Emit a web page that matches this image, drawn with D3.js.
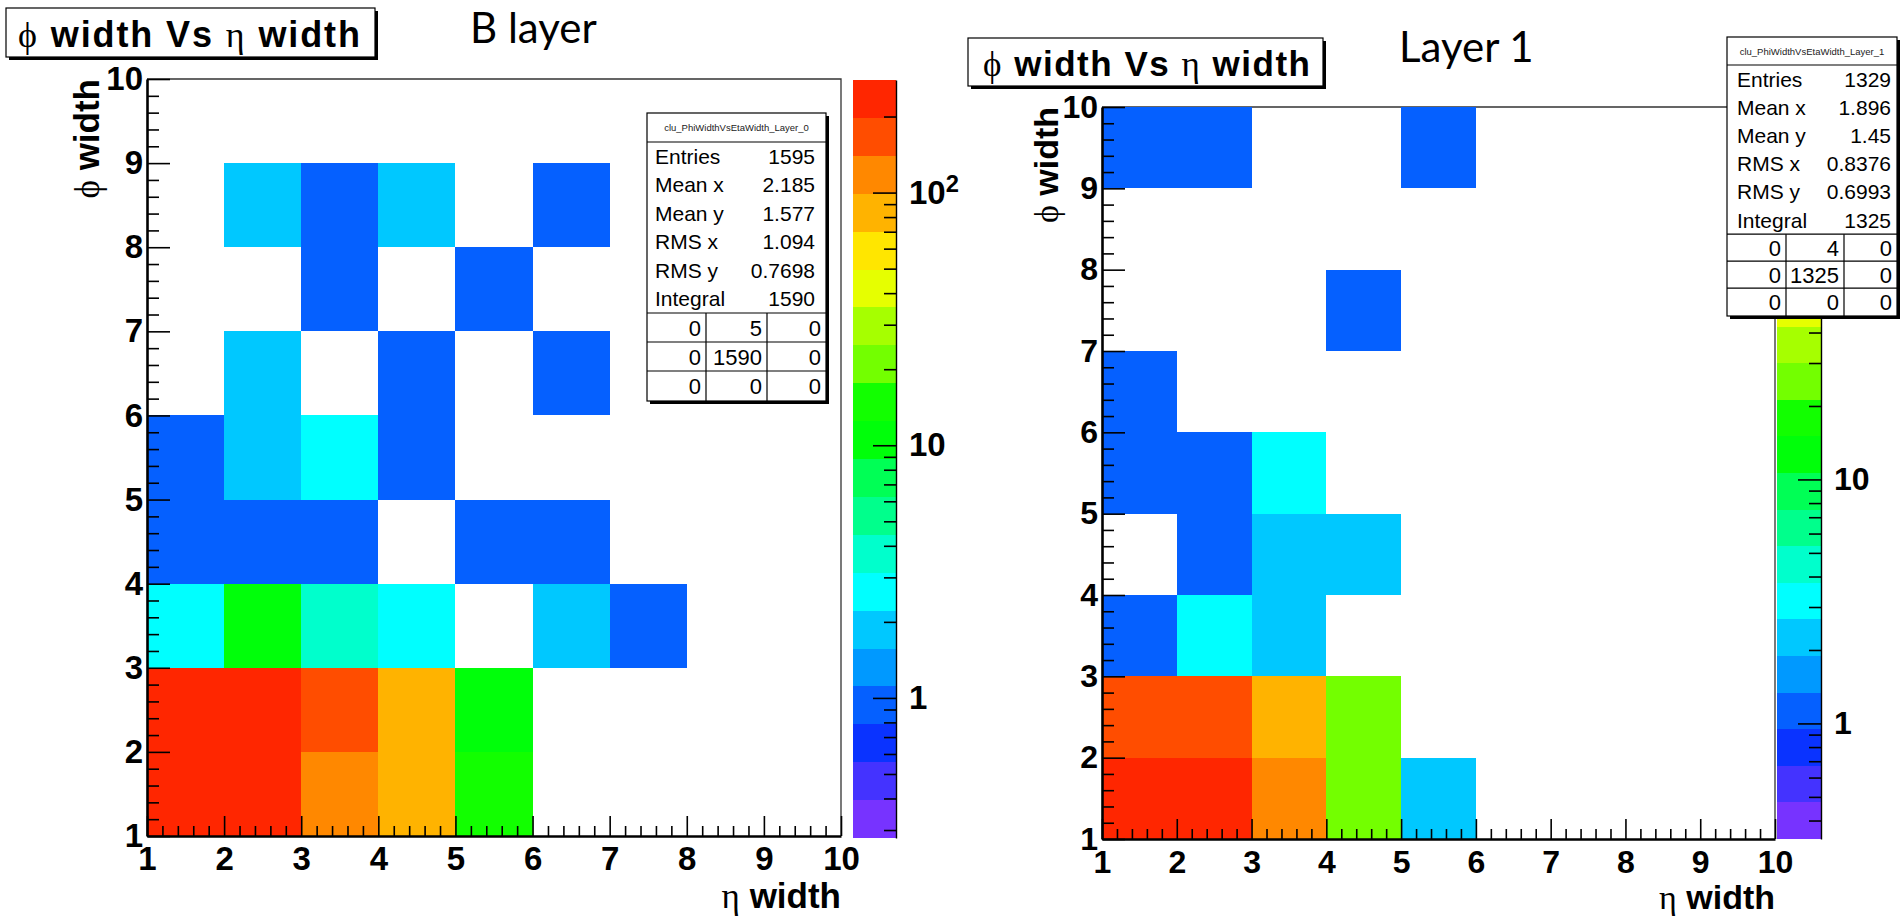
<html>

<head>
    <meta charset="utf-8">
    <title>phi width Vs eta width</title>

    <style>
        body {
            padding: 0;
            margin: 0;
            background: white;
        }

        svg {
            display: block;
        }

        .frame {
            stroke: #333;
            stroke-width: 1.3;
            fill: none;
        }

        .cell {
            shape-rendering: crispEdges;
        }

        .box {
            fill: white;
            stroke: black;
            stroke-width: 1.2;
        }

        .shadow {
            fill: black;
        }

        .stat {
            font-family: "Liberation Sans", Arial, sans-serif;
        }

        .bold {
            font-family: "Liberation Sans", Arial, sans-serif;
            font-weight: bold;
        }

        .greek {
            font-family: "Liberation Serif", "DejaVu Serif", serif;
            font-weight: normal;
        }

        .layer {
            font-family: Lato, "Open Sans", sans-serif;
            font-size: 42px;
        }
    </style>
</head>

<body>

    <div id="chart"></div>

    <script src="https://d3js.org/d3.v7.min.js"></script>

    <script>
        // ---- data ----
        var etaTicks = [1, 2, 3, 4, 5, 6, 7, 8, 9, 10];
        var phiTicks = [1, 2, 3, 4, 5, 6, 7, 8, 9, 10];
        var zMinorTicks = [0.2, 0.3, 0.4, 0.5, 0.6, 0.7, 0.8, 0.9, 2, 3, 4, 5, 6, 7, 8, 9,
            20, 30, 40, 50, 60, 70, 80, 90, 200, 300];

        // 20 contour colours, lowest level first
        var paletteColors = ["#7733ff", "#4433ff", "#0a33ff", "#0560ff", "#0099ff",
            "#00c8ff", "#00ffff", "#00ffcc", "#00ff8c", "#00ff55",
            "#00ff0a", "#12ff00", "#73ff00", "#a6ff00", "#e6ff00",
            "#ffe600", "#ffb300", "#ff8800", "#ff4d00", "#ff2600"];

        var statNames = ["Entries", "Mean x", "Mean y", "RMS x", "RMS y", "Integral"];

        // B layer: [eta bin low edge, phi bin low edge, entries]
        var bLayerCells = [
            [1, 1, 270], [2, 1, 255], [3, 1, 135], [4, 1, 90], [5, 1, 14],
            [1, 2, 260], [2, 2, 245], [3, 2, 175], [4, 2, 86], [5, 2, 11],
            [1, 3, 3], [2, 3, 12], [3, 3, 4], [4, 3, 3], [6, 3, 2], [7, 3, 1],
            [1, 4, 1], [2, 4, 1], [3, 4, 1], [5, 4, 1], [6, 4, 1],
            [1, 5, 1], [2, 5, 2], [3, 5, 3], [4, 5, 1],
            [2, 6, 2], [4, 6, 1], [6, 6, 1],
            [3, 7, 1], [5, 7, 1],
            [2, 8, 2], [3, 8, 1], [4, 8, 2], [6, 8, 1]
        ];
        var bLayerZRange = [0.279, 279];
        var bLayerZLabels = [1, 10, 100];
        var bLayerName = "clu_PhiWidthVsEtaWidth_Layer_0";
        var bLayerStats = ["1595", "2.185", "1.577", "1.094", "0.7698", "1590"];
        var bLayerOverflow = [[0, 5, 0], [0, 1590, 0], [0, 0, 0]];

        // Layer 1 (the 10^2 label sits under the stats box)
        var layer1Cells = [
            [1, 1, 315], [2, 1, 305], [3, 1, 140], [4, 1, 27], [5, 1, 2],
            [1, 2, 200], [2, 2, 190], [3, 2, 100], [4, 2, 25],
            [1, 3, 1], [2, 3, 3], [3, 3, 2],
            [2, 4, 1], [3, 4, 2], [4, 4, 2],
            [1, 5, 1], [2, 5, 1], [3, 5, 3],
            [1, 6, 1],
            [4, 7, 1],
            [1, 9, 1], [2, 9, 1], [5, 9, 1]
        ];
        var layer1ZRange = [0.336, 336];
        var layer1ZLabels = [1, 10];
        var layer1Name = "clu_PhiWidthVsEtaWidth_Layer_1";
        var layer1Stats = ["1329", "1.896", "1.45", "0.8376", "0.6993", "1325"];
        var layer1Overflow = [[0, 4, 0], [0, 1325, 0], [0, 0, 0]];

        var width = 1903,
            height = 916;

        var svg = d3.select("#chart")
            .append("svg")
            .attr("width", width)
            .attr("height", height);

        var panels = [{
            layer: "B layer", cells: bLayerCells, zRange: bLayerZRange, zLabels: bLayerZLabels,
            name: bLayerName, stats: bLayerStats, overflow: bLayerOverflow,
            left: 147, right: 841, top: 79, bottom: 836,
            palLeft: 853, palRight: 896, palTop: 80, palBottom: 838,
            titleBox: [6, 8, 369, 49], titleX: 18, titleW: 342, titleY: 47, titleFs: 36,
            layerX: 470, layerY: 43,
            yTitleX: 99, xTitleY: 908, axisFs: 33, titleAxisFs: 35,
            statBox: [647, 113, 179, 288], statTitleH: 29, rowH: 28.5, nameX: 655, valueX: 815,
            gridRowH: 29, gridCols: [647, 706, 767, 826]
        }, {
            layer: "Layer 1", cells: layer1Cells, zRange: layer1ZRange, zLabels: layer1ZLabels,
            name: layer1Name, stats: layer1Stats, overflow: layer1Overflow,
            left: 1102, right: 1775, top: 107, bottom: 839,
            palLeft: 1777, palRight: 1821, palTop: 107, palBottom: 839,
            titleBox: [968, 38, 355, 48], titleX: 983, titleW: 327, titleY: 76, titleFs: 35,
            layerX: 1399, layerY: 62,
            yTitleX: 1058, xTitleY: 909, axisFs: 32, titleAxisFs: 34,
            statBox: [1727, 37, 170, 279], statTitleH: 28, rowH: 28.2, nameX: 1737, valueX: 1891,
            gridRowH: 27, gridCols: [1727, 1786, 1844, 1897]
        }];

        panels.forEach(drawPanel);

        function styleAxis(g, fs) {
            g.attr("font-size", fs)
                .attr("font-family", '"Liberation Sans", Arial, sans-serif')
                .attr("font-weight", "bold");
            g.selectAll(".tick line").attr("stroke", "black").attr("stroke-width", 1.6);
        }

        function drawPanel(p) {
            var g = svg.append("g");

            var x = d3.scaleLinear().domain([1, 10]).range([p.left, p.right]);
            var y = d3.scaleLinear().domain([1, 10]).range([p.bottom, p.top]);
            var z = d3.scaleLog().domain(p.zRange).range([p.palBottom, p.palTop]);
            var color = d3.scaleQuantize()
                .domain(p.zRange.map(Math.log10))
                .range(paletteColors);

            // title box
            var tb = p.titleBox;
            g.append("rect").attr("class", "shadow")
                .attr("x", tb[0] + 3).attr("y", tb[1] + 3).attr("width", tb[2]).attr("height", tb[3]);
            g.append("rect").attr("class", "box")
                .attr("x", tb[0]).attr("y", tb[1]).attr("width", tb[2]).attr("height", tb[3]);

            var title = g.append("text").attr("class", "bold")
                .attr("x", p.titleX).attr("y", p.titleY)
                .attr("font-size", p.titleFs)
                .attr("textLength", p.titleW)
                .attr("lengthAdjust", "spacing");
            title.append("tspan").attr("class", "greek").text("\u03d5");
            title.append("tspan").text(" width Vs ");
            title.append("tspan").attr("class", "greek").text("\u03b7");
            title.append("tspan").text(" width");

            g.append("text").attr("class", "layer")
                .attr("x", p.layerX).attr("y", p.layerY)
                .text(p.layer);

            // frame (top and right)
            g.append("path").attr("class", "frame")
                .attr("d", "M" + p.left + "," + p.top + "H" + p.right + "V" + p.bottom);

            // cells
            g.append("g").selectAll("rect")
                .data(p.cells)
                .enter()
                .append("rect")
                .attr("class", "cell")
                .attr("x", function (d) { return x(d[0]); })
                .attr("y", function (d) { return y(d[1] + 1); })
                .attr("width", function (d) { return x(d[0] + 1) - x(d[0]); })
                .attr("height", function (d) { return y(d[1]) - y(d[1] + 1); })
                .attr("fill", function (d) { return color(Math.log10(d[2])); });

            // x axis
            var minorX = d3.range(1, 10.001, 0.2).filter(function (v) { return Math.abs(v - Math.round(v)) > 0.01; });
            g.append("g").attr("transform", "translate(0," + p.bottom + ")")
                .call(d3.axisBottom(x).tickValues(minorX).tickSize(-10).tickFormat(""))
                .call(function (a) { a.select(".domain").remove(); styleAxis(a, p.axisFs); });
            var gx = g.append("g").attr("transform", "translate(0," + p.bottom + ")")
                .call(d3.axisBottom(x).tickValues(etaTicks).tickSizeInner(-20).tickSizeOuter(0)
                    .tickPadding(11).tickFormat(d3.format("d")));
            styleAxis(gx, p.axisFs);
            gx.select(".domain").attr("stroke", "black").attr("stroke-width", 2.6);

            // y axis
            var minorY = d3.range(1, 10.001, 0.2).filter(function (v) { return Math.abs(v - Math.round(v)) > 0.01; });
            g.append("g").attr("transform", "translate(" + p.left + ",0)")
                .call(d3.axisLeft(y).tickValues(minorY).tickSize(-12).tickFormat(""))
                .call(function (a) { a.select(".domain").remove(); styleAxis(a, p.axisFs); });
            var gy = g.append("g").attr("transform", "translate(" + p.left + ",0)")
                .call(d3.axisLeft(y).tickValues(phiTicks).tickSizeInner(-23).tickSizeOuter(0)
                    .tickPadding(4).tickFormat(d3.format("d")));
            styleAxis(gy, p.axisFs);
            gy.select(".domain").attr("stroke", "black").attr("stroke-width", 2.6);

            // axis titles
            var yt = g.append("text").attr("class", "bold")
                .attr("transform", "translate(" + p.yTitleX + "," + p.top + ") rotate(-90)")
                .attr("text-anchor", "end")
                .attr("font-size", p.titleAxisFs);
            yt.append("tspan").attr("class", "greek").text("\u03d5");
            yt.append("tspan").text(" width");

            var xt = g.append("text").attr("class", "bold")
                .attr("x", p.right).attr("y", p.xTitleY)
                .attr("text-anchor", "end")
                .attr("font-size", p.titleAxisFs);
            xt.append("tspan").attr("class", "greek").text("\u03b7");
            xt.append("tspan").text(" width");

            // palette
            var bandH = (p.palBottom - p.palTop) / paletteColors.length;
            g.append("g").selectAll("rect")
                .data(paletteColors)
                .enter()
                .append("rect")
                .attr("class", "cell")
                .attr("x", p.palLeft)
                .attr("width", p.palRight - p.palLeft)
                .attr("y", function (d, i) { return p.palBottom - (i + 1) * bandH; })
                .attr("height", bandH)
                .attr("fill", function (d) { return d; });

            var zMinor = zMinorTicks.filter(function (v) { return v > p.zRange[0] && v < p.zRange[1]; });
            g.append("g").attr("transform", "translate(" + p.palRight + ",0)")
                .call(d3.axisRight(z).tickValues(zMinor).tickSize(-12).tickFormat(""))
                .call(function (a) { a.select(".domain").remove(); styleAxis(a, p.axisFs); });
            var gz = g.append("g").attr("transform", "translate(" + p.palRight + ",0)")
                .call(d3.axisRight(z).tickValues(p.zLabels).tickSizeInner(-23).tickSizeOuter(0)
                    .tickPadding(13).tickFormat(d3.format("d")));
            styleAxis(gz, p.axisFs);
            gz.select(".domain").attr("stroke", "black").attr("stroke-width", 1.4);
            gz.selectAll(".tick text").each(function (d) {
                if (d === 100) {
                    var t = d3.select(this).text("10");
                    t.append("tspan").attr("dy", "-0.5em").attr("font-size", "72%").text("2");
                }
            });

            // stats box
            var sb = p.statBox;
            g.append("rect").attr("class", "shadow")
                .attr("x", sb[0] + 3).attr("y", sb[1] + 3).attr("width", sb[2]).attr("height", sb[3]);
            g.append("rect").attr("class", "box")
                .attr("x", sb[0]).attr("y", sb[1]).attr("width", sb[2]).attr("height", sb[3]);

            g.append("text").attr("class", "stat")
                .attr("x", sb[0] + sb[2] / 2).attr("y", sb[1] + p.statTitleH / 2 + 3.5)
                .attr("text-anchor", "middle")
                .attr("font-size", 9.5)
                .attr("fill", "#222")
                .text(p.name);
            g.append("line").attr("class", "box")
                .attr("x1", sb[0]).attr("x2", sb[0] + sb[2])
                .attr("y1", sb[1] + p.statTitleH).attr("y2", sb[1] + p.statTitleH);

            var rowTop = sb[1] + p.statTitleH;
            statNames.forEach(function (n, i) {
                var yy = rowTop + (i + 0.5) * p.rowH + 7.5;
                g.append("text").attr("class", "stat").attr("font-size", 21)
                    .attr("x", p.nameX).attr("y", yy).text(n);
                g.append("text").attr("class", "stat").attr("font-size", 21)
                    .attr("x", p.valueX).attr("y", yy).attr("text-anchor", "end")
                    .text(p.stats[i]);
            });

            var gridTop = rowTop + statNames.length * p.rowH;
            var cols = p.gridCols;
            p.overflow.forEach(function (row, r) {
                var top = gridTop + r * p.gridRowH;
                g.append("line").attr("class", "box")
                    .attr("x1", cols[0]).attr("x2", cols[3])
                    .attr("y1", top).attr("y2", top);
                row.forEach(function (v, c) {
                    g.append("text").attr("class", "stat").attr("font-size", 22)
                        .attr("x", cols[c + 1] - 5).attr("y", top + p.gridRowH / 2 + 8)
                        .attr("text-anchor", "end")
                        .text(v);
                });
            });
            [cols[1], cols[2]].forEach(function (cx) {
                g.append("line").attr("class", "box")
                    .attr("x1", cx).attr("x2", cx)
                    .attr("y1", gridTop).attr("y2", sb[1] + sb[3]);
            });
        }
    </script>
</body>

</html>
